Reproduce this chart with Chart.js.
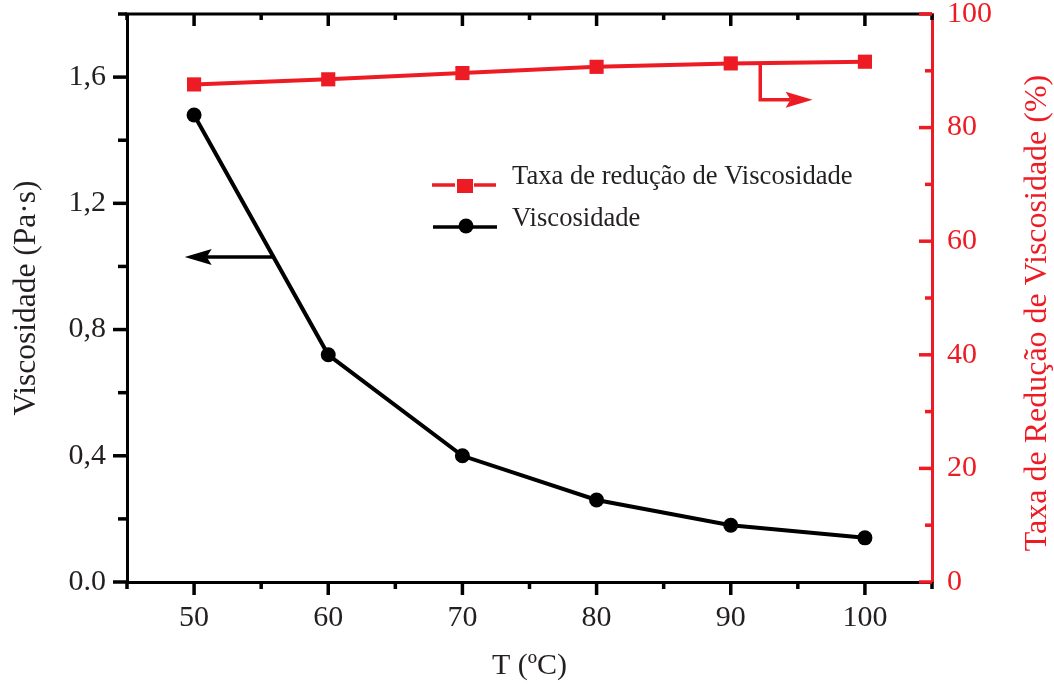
<!DOCTYPE html>
<html><head><meta charset="utf-8">
<script src="https://cdn.jsdelivr.net/npm/chart.js@4.4.1/dist/chart.umd.min.js"></script>
<style>html,body{margin:0;padding:0;background:#fff;} #wrap{width:1054px;height:684px;}</style>
</head><body><div id="wrap"><canvas id="c" width="1054" height="684"></canvas></div>
<script>
// ---- data ----
const temperatures = [50, 60, 70, 80, 90, 100];
const viscosity = [1.48, 0.72, 0.40, 0.26, 0.18, 0.14];
const reductionRate = [87.6, 88.5, 89.6, 90.7, 91.3, 91.6];
const xTickValues = [50, 60, 70, 80, 90, 100];
const xTickLabels = ['50', '60', '70', '80', '90', '100'];
const leftTickValues = [0, 0.4, 0.8, 1.2, 1.6];
const leftTickLabels = ['0.0', '0,4', '0,8', '1,2', '1,6'];
const rightTickValues = [0, 20, 40, 60, 80, 100];
const rightTickLabels = ['0', '20', '40', '60', '80', '100'];
const seriesNames = ['Taxa de redução de Viscosidade', 'Viscosidade'];
const xTitle = 'T (ºC)';
const leftTitle = 'Viscosidade (Pa·s)';
const rightTitle = 'Taxa de Redução de Viscosidade (%)';
// annotation arrows (data coordinates)
const leftArrow = { y: 1.03, tipX: 49.3 };
const rightArrow = { x: 92.2, y: 84.9, tipX: 96.1 };

// ---- style ----
const RED = '#ED1C24';
const BLACK = '#000000';
const SERIF = "'Liberation Serif', 'Times New Roman', serif";

function labelFor(values, labels, v) {
  const i = values.findIndex(t => Math.abs(t - v) < 1e-6);
  return i < 0 ? '' : labels[i];
}
function interp(xs, ys, x) {
  for (let i = 0; i < xs.length - 1; i++) {
    if (x >= xs[i] && x <= xs[i + 1]) {
      const f = (x - xs[i]) / (xs[i + 1] - xs[i]);
      return ys[i] + f * (ys[i + 1] - ys[i]);
    }
  }
  return ys[ys.length - 1];
}
function invInterp(xs, ys, y) {
  for (let i = 0; i < xs.length - 1; i++) {
    const a = ys[i], b = ys[i + 1];
    if ((y - a) * (y - b) <= 0 && a !== b) {
      return xs[i] + (y - a) / (b - a) * (xs[i + 1] - xs[i]);
    }
  }
  return xs[0];
}

const decorPlugin = {
  id: 'decor',
  afterDraw(chart) {
    const ctx = chart.ctx;
    const ca = chart.chartArea;
    const xs = chart.scales.x, yl = chart.scales.y, yr = chart.scales.y1;
    ctx.save();
    ctx.lineCap = 'butt';
    // top border
    ctx.strokeStyle = BLACK; ctx.lineWidth = 3;
    ctx.beginPath(); ctx.moveTo(ca.left - 1.5, ca.top); ctx.lineTo(ca.right, ca.top); ctx.stroke();
    // x ticks (bottom outward, top inward)
    ctx.lineWidth = 3.5;
    xs.ticks.forEach(t => {
      const px = xs.getPixelForValue(t.value);
      const major = labelFor(xTickValues, xTickLabels, t.value) !== '';
      ctx.beginPath();
      ctx.moveTo(px, ca.bottom); ctx.lineTo(px, ca.bottom + (major ? 13 : 7));
      ctx.moveTo(px, ca.top); ctx.lineTo(px, ca.top + (major ? 12 : 6));
      ctx.stroke();
    });
    // left ticks outward
    yl.ticks.forEach(t => {
      const py = yl.getPixelForValue(t.value);
      const major = labelFor(leftTickValues, leftTickLabels, t.value) !== '';
      ctx.beginPath(); ctx.moveTo(ca.left, py); ctx.lineTo(ca.left - (major ? 14 : 9), py); ctx.stroke();
    });
    // right ticks inward (red)
    ctx.strokeStyle = RED;
    yr.ticks.forEach(t => {
      const py = yr.getPixelForValue(t.value);
      const major = labelFor(rightTickValues, rightTickLabels, t.value) !== '';
      ctx.beginPath(); ctx.moveTo(ca.right, py); ctx.lineTo(ca.right - (major ? 13 : 7), py); ctx.stroke();
    });

    // left arrow (black)
    ctx.strokeStyle = BLACK; ctx.fillStyle = BLACK; ctx.lineWidth = 3.5;
    const ay = yl.getPixelForValue(leftArrow.y);
    const ax0 = xs.getPixelForValue(invInterp(temperatures, viscosity, leftArrow.y));
    const atip = xs.getPixelForValue(leftArrow.tipX);
    ctx.beginPath(); ctx.moveTo(ax0, ay); ctx.lineTo(atip + 22, ay); ctx.stroke();
    ctx.beginPath(); ctx.moveTo(atip, ay); ctx.lineTo(atip + 27, ay - 8); ctx.lineTo(atip + 22, ay); ctx.lineTo(atip + 27, ay + 8); ctx.closePath(); ctx.fill();

    // right arrow (red)
    ctx.strokeStyle = RED; ctx.fillStyle = RED;
    const rx = xs.getPixelForValue(rightArrow.x);
    const ry0 = yr.getPixelForValue(interp(temperatures, reductionRate, rightArrow.x));
    const ry1 = yr.getPixelForValue(rightArrow.y);
    const rtip = xs.getPixelForValue(rightArrow.tipX);
    ctx.beginPath(); ctx.moveTo(rx, ry0); ctx.lineTo(rx, ry1); ctx.lineTo(rtip - 22, ry1); ctx.stroke();
    ctx.beginPath(); ctx.moveTo(rtip, ry1); ctx.lineTo(rtip - 27, ry1 - 8); ctx.lineTo(rtip - 22, ry1); ctx.lineTo(rtip - 27, ry1 + 8); ctx.closePath(); ctx.fill();

    // legend
    ctx.lineWidth = 3.5;
    ctx.strokeStyle = RED; ctx.fillStyle = RED;
    ctx.beginPath(); ctx.moveTo(432, 185); ctx.lineTo(455, 185); ctx.moveTo(474, 185); ctx.lineTo(496, 185); ctx.stroke();
    ctx.fillRect(457, 179, 16, 14);
    ctx.strokeStyle = BLACK; ctx.fillStyle = BLACK;
    ctx.beginPath(); ctx.moveTo(433, 227); ctx.lineTo(497, 227); ctx.stroke();
    ctx.beginPath(); ctx.arc(466, 226, 7.5, 0, Math.PI * 2); ctx.fill();
    ctx.fillStyle = '#231F20';
    ctx.font = '26.6px ' + SERIF;
    ctx.textAlign = 'left'; ctx.textBaseline = 'alphabetic';
    ctx.fillText(seriesNames[0], 512, 184);
    ctx.fillText(seriesNames[1], 512, 226);

    // right axis title (reads bottom to top)
    ctx.fillStyle = RED;
    ctx.font = '32px ' + SERIF;
    ctx.textAlign = 'center';
    ctx.translate(ca.right + 114, (ca.top + ca.bottom) / 2 + 15);
    ctx.rotate(-Math.PI / 2);
    ctx.fillText(rightTitle, 0, 0);
    ctx.restore();
  }
};

new Chart(document.getElementById('c'), {
  type: 'line',
  data: {
    datasets: [
      {
        label: seriesNames[0],
        data: temperatures.map((t, i) => ({ x: t, y: reductionRate[i] })),
        yAxisID: 'y1',
        borderColor: RED, backgroundColor: RED,
        borderWidth: 4, pointStyle: 'rect', pointRadius: 10, pointBorderWidth: 0,
        tension: 0
      },
      {
        label: seriesNames[1],
        data: temperatures.map((t, i) => ({ x: t, y: viscosity[i] })),
        yAxisID: 'y',
        borderColor: BLACK, backgroundColor: BLACK,
        borderWidth: 4, pointStyle: 'circle', pointRadius: 7.5, pointBorderWidth: 0,
        tension: 0
      }
    ]
  },
  options: {
    responsive: false, animation: false, devicePixelRatio: 1,
    layout: { padding: { top: 14, left: 0, right: 0, bottom: 0 } },
    plugins: { legend: { display: false }, tooltip: { enabled: false } },
    scales: {
      x: {
        type: 'linear', position: 'bottom', min: 45, max: 105,
        ticks: { stepSize: 5, autoSkip: false, maxRotation: 0, padding: 18, color: '#231F20',
          font: { family: SERIF, size: 30 },
          callback: v => labelFor(xTickValues, xTickLabels, v) },
        grid: { display: false, drawOnChartArea: false, drawTicks: false },
        border: { display: true, color: BLACK, width: 3 },
        title: { display: true, text: xTitle, color: '#231F20', font: { family: SERIF, size: 30 }, padding: { top: 0, bottom: 0 } },
        afterFit(s) { s.height = 102; s.paddingLeft = 0; s.paddingRight = 0; }
      },
      y: {
        type: 'linear', position: 'left', min: 0, max: 1.8,
        ticks: { stepSize: 0.2, autoSkip: false, padding: 21, color: '#231F20',
          font: { family: SERIF, size: 30 },
          callback: v => labelFor(leftTickValues, leftTickLabels, v) },
        grid: { display: false, drawOnChartArea: false, drawTicks: false },
        border: { display: true, color: BLACK, width: 3 },
        title: { display: true, text: leftTitle, color: '#231F20', font: { family: SERIF, size: 31.5 }, padding: { top: 8, bottom: 0 } },
        afterFit(s) { s.width = 127; s.paddingTop = 0; s.paddingBottom = 0; }
      },
      y1: {
        type: 'linear', position: 'right', min: 0, max: 100,
        ticks: { stepSize: 10, autoSkip: false, padding: 15, color: RED,
          font: { family: SERIF, size: 30 },
          callback: v => labelFor(rightTickValues, rightTickLabels, v) },
        grid: { display: false, drawOnChartArea: false, drawTicks: false },
        border: { display: true, color: RED, width: 3 },
        afterFit(s) { s.width = 122; s.paddingTop = 0; s.paddingBottom = 0; }
      }
    }
  },
  plugins: [decorPlugin]
});
</script>
</body></html>
